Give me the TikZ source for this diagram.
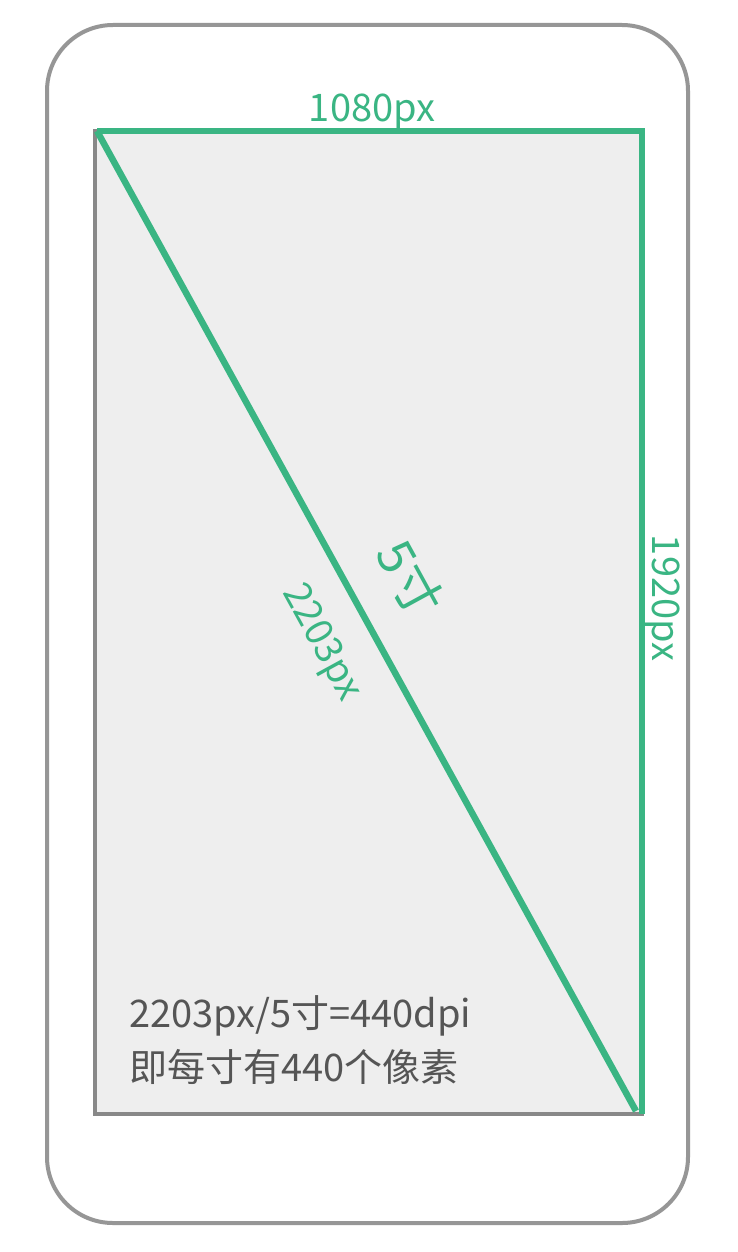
\documentclass[tikz,border=0pt]{standalone}
\usepackage{fontspec}
\setmainfont{Noto Sans CJK SC}
\definecolor{grn}{RGB}{58,181,131}
\definecolor{frame}{RGB}{150,150,150}
\definecolor{scr}{RGB}{136,136,136}
\definecolor{scrfill}{RGB}{238,238,238}
\definecolor{txt}{RGB}{85,85,85}
\begin{document}
\begin{tikzpicture}[x=1pt,y=-1pt,
  greenline/.style={draw=grn,line width=6.5pt},
  glabel/.style={text=grn,inner sep=0pt,font=\fontsize{38}{40}\selectfont},
  note/.style={text=txt,inner sep=0pt,anchor=base west,font=\fontsize{38}{40}\selectfont}]
\useasboundingbox (0,0) rectangle (738,1252);
\fill[white] (0,0) rectangle (738,1252);
% phone frame
\draw[frame,line width=4pt,rounded corners=66pt] (47,25) rectangle (688,1223);
% screen
\coordinate (tl) at (95,131);
\coordinate (br) at (642,1114);
\filldraw[fill=scrfill,draw=scr,line width=4pt] (tl) rectangle (br);
% green lines
\coordinate (gtl) at (97,131);
\coordinate (gtr) at (642,131);
\coordinate (gbr) at (642,1114);
\coordinate (dbr) at (636,1111);
\draw[greenline,line join=miter] (gtl) -- (gtr) -- (gbr);
\draw[greenline] (gtl) -- (dbr);
% labels
\node[glabel,anchor=base] (w) at (372,122) {1080px};
\node[glabel,anchor=base,rotate=-90] (h) at (652,598) {1920px};
\node[glabel,rotate=-61.3,font=\fontsize{50}{52}\selectfont] (inch) at (410,578) {5寸};
\node[glabel,rotate=-61.3] (diag) at (321,643) {2203px};
\node[note] (l1) at (129,1027) {2203px/5寸=440dpi};
\node[note] (l2) at (129,1081) {即每寸有440个像素};
\end{tikzpicture}
\end{document}
